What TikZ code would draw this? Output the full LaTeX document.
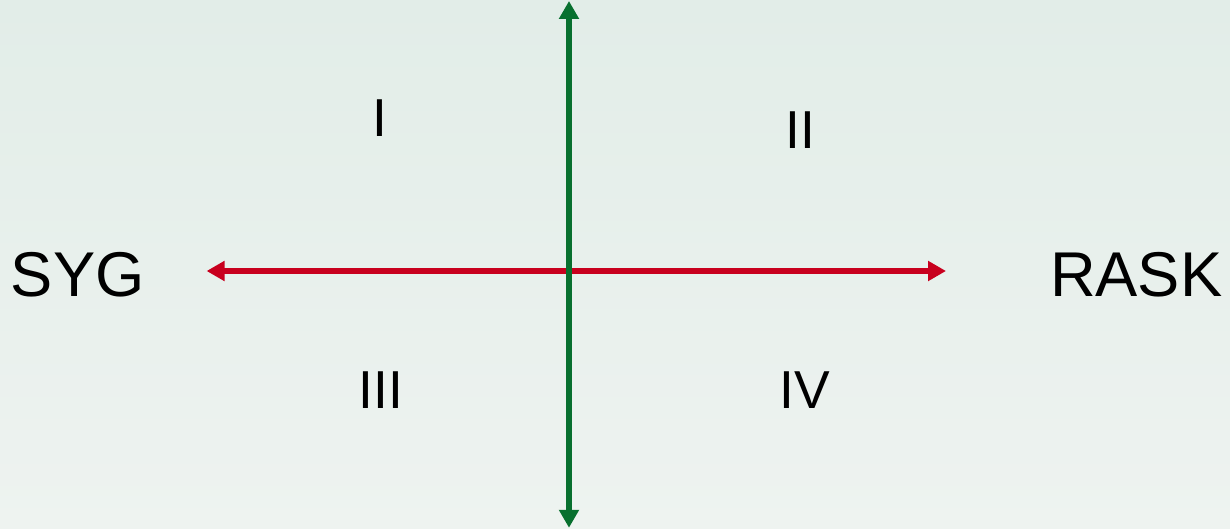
\documentclass[tikz,border=0pt]{standalone}
\usepackage{fontspec}
\setmainfont{Liberation Sans}
\usepackage{tikz}
\usetikzlibrary{arrows.meta}
\definecolor{axGreen}{HTML}{08702F}
\definecolor{axRed}{HTML}{C8001E}
\definecolor{bgTop}{HTML}{E2EDE8}
\definecolor{bgBot}{HTML}{EEF3F0}
\def\lw{4pt}

\begin{document}
\begin{tikzpicture}[
  font=\fontsize{38}{44}\selectfont,
  axis/.style={line width=\lw, {Triangle[length=0.45cm,width=0.48cm]}-{Triangle[length=0.45cm,width=0.48cm]}},
  quad/.style={text=black, inner sep=0pt},
  side/.style={text=black, inner sep=0pt, font=\fontsize{45}{51}\selectfont},
]

% ---------- background ----------
\fill[top color=bgTop, bottom color=bgBot] (-14.225,-6.45) rectangle (16.525,6.775);
\useasboundingbox (-14.225,-6.45) rectangle (16.525,6.775);

% =====================================================================
% AXES
% =====================================================================
\coordinate (west)  at (-9.06,0);
\coordinate (east)  at (9.425,0);
\coordinate (north) at (0,6.75);
\coordinate (south) at (0,-6.42);

\draw[axis, axRed]   (west) -- (east);
\draw[axis, axGreen] (south) -- (north);

% =====================================================================
% LABELS
% =====================================================================
\node[side] (syg)  at (-12.28,-0.1) {SYG};
\node[side] (rask) at (14.18,-0.1)  {RASK};

\node[quad] (q1) at (-4.725,3.81)  {I};
\node[quad] (q2) at (5.775,3.51)   {II};
\node[quad] (q3) at (-4.71,-2.99)  {III};
\node[quad] (q4) at (5.9,-2.99)    {IV};

\end{tikzpicture}
\end{document}
